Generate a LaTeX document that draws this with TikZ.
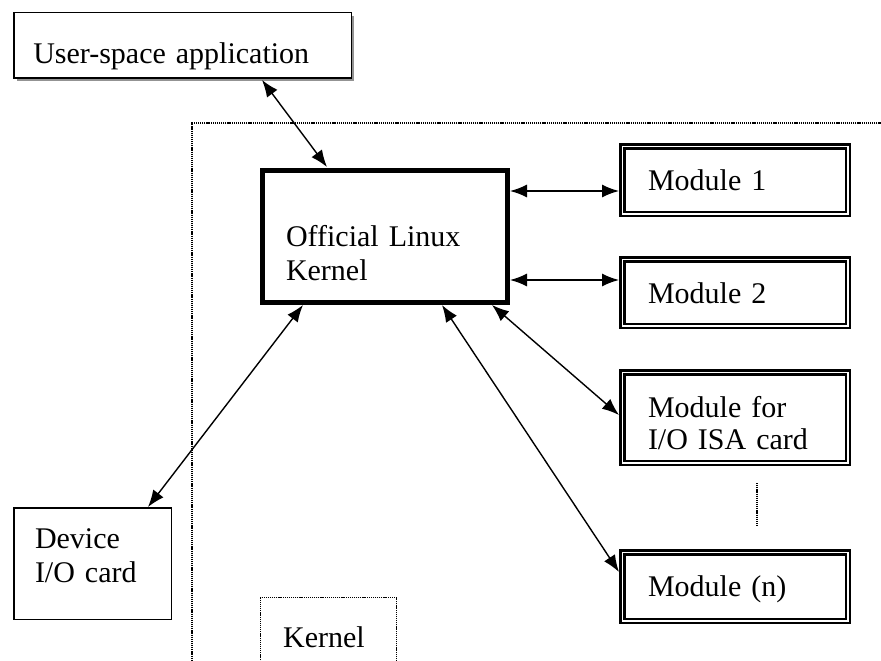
\documentclass[tikz,border=0pt]{standalone}
\usepackage{fontspec}
\setmainfont{Liberation Serif}
\usepackage{tikz}
\usetikzlibrary{arrows.meta,shadows,positioning}

\begin{document}
\begin{tikzpicture}[x=1pt, y=-1pt,
    every node/.style={font=\fontsize{30}{34}\selectfont, align=left, inner ysep=0pt, anchor=north west},
    plainbox/.style={draw, line width=1.5pt},
    modbox/.style={draw, line width=2.5pt, double, double distance=1.5pt, outer sep=3.25pt,
        inner xsep=25.75pt, text width=174pt},
    dotline/.style={line width=1.2pt, dash pattern=on 1.2pt off 0.9pt},
    link/.style={{Latex[length=17pt,width=13pt]}-{Latex[length=17pt,width=13pt]}, line width=1.4pt}]
    \useasboundingbox (0,0) rectangle (881,661);

    % Kernel space frame
    \draw[dotline] (890,123) -- (192,123) -- (192,670);

    % User space
    \node[plainbox, fill=white, drop shadow={shadow xshift=3pt, shadow yshift=-3pt, fill=gray!85, opacity=1},
        inner xsep=19.5pt, text width=298.5pt, text height=50.5pt, text depth=15pt] (user) at (13,12) {User-space application};

    % Official kernel
    \node[draw, line width=5pt, inner xsep=23.5pt, text width=198pt, text height=75.5pt, text depth=56.5pt] (kernel) at (260,168) {Official Linux\\Kernel};

    % Modules
    \node[modbox, text height=43.75pt, text depth=23.75pt] (mod1) at (619,143) {Module 1};
    \node[modbox, text height=43.75pt, text depth=22.75pt] (mod2) at (619,256) {Module 2};
    \node[modbox, text height=44.75pt, text depth=45.75pt] (isa) at (619,369) {Module for\\[-2pt]I/O ISA card};
    \node[modbox, text height=43.75pt, text depth=24.75pt] (modn) at (619,549) {Module (n)};
    \draw[dotline] (757,483) -- (757,527);

    % Hardware
    \node[plainbox, inner xsep=21.25pt, text width=115pt, text height=40.25pt, text depth=71.25pt] (device) at (13,507) {Device\\I/O card};

    % Label
    \node[draw, dotline, inner xsep=22.5pt, text width=91pt, text height=49.5pt, text depth=25pt] (klabel) at (260,597) {Kernel};

    % Links
    \draw[link] ([xshift=249pt, yshift=-1pt]user.south west) -- ([xshift=67pt, yshift=1pt]kernel.north west);
    \draw[link] ([yshift=45.5pt]kernel.east) -- ([yshift=-11pt]mod1.west);
    \draw[link] ([yshift=-43.5pt]kernel.east) -- ([yshift=12.5pt]mod2.west);
    \draw[link] ([xshift=-18pt]kernel.south east) -- ([yshift=2.5pt]isa.west);
    \draw[link] ([xshift=182pt]kernel.south west) -- ([yshift=14.5pt]modn.west);
    \draw[link] ([xshift=43pt]kernel.south west) -- ([xshift=135pt]device.north west);
\end{tikzpicture}
\end{document}
